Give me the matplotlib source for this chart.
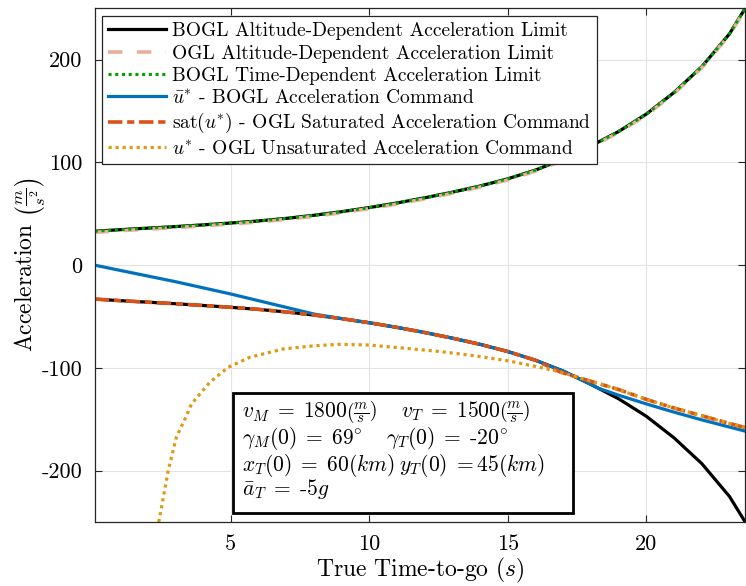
import matplotlib
matplotlib.use("Agg")
import matplotlib.pyplot as plt
from matplotlib.patches import Rectangle
import numpy as np

plt.rcParams['font.family'] = 'serif'
plt.rcParams['font.serif'] = ['cmr10']
plt.rcParams['mathtext.fontset'] = 'cm'
plt.rcParams['axes.unicode_minus'] = False
plt.rcParams['axes.formatter.use_mathtext'] = False

# time-to-go samples (s)
t_lim = [0.1, 1, 2, 3, 4, 5, 6, 7, 8, 9, 10, 11, 12, 13, 14, 15, 16, 17, 18, 19, 20, 21, 22, 23, 23.57]
# altitude dependent acceleration limit (m/s^2)
bogl_lim = [33, 34.5, 36, 37.5, 39.2, 41, 43, 45.5, 48.5, 52, 56, 60.5, 65.5, 71, 77, 84, 92.5, 103,
            116, 130, 147, 168, 193, 225, 250]
ogl_lim = [32, 33.5, 35, 36.5, 38.2, 40, 42, 44.5, 47.5, 51, 55, 59.5, 64.5, 70, 76, 83, 91.5, 102,
           115, 129, 146, 167, 192, 224, 249]
time_lim = [33, 34.5, 36, 37.5, 39.2, 41, 43, 45.5, 48.5, 52, 56, 60.5, 65.5, 71, 77, 84, 92.5, 103,
            116, 130, 147, 168, 193, 225, 250]

# BOGL command
t_bogl = [0.1, 1, 2, 3, 4, 5, 6, 7, 8, 9, 10, 11, 12, 13, 14, 15, 16, 17, 18, 18.3, 19, 20, 21, 22, 23, 23.57]
u_bogl = [0, -5, -10.5, -16, -22, -28, -34.5, -41, -47.5, -52, -56, -60.5, -65.5, -71, -77, -84, -92.5,
          -103, -116, -120, -126.5, -135, -143, -150.5, -157.5, -161.5]

# OGL unsaturated command
t_unsat = [2.41, 2.75, 3.05, 3.35, 3.59, 4.25, 4.91, 5.7, 6.9, 8, 8.9, 10, 11.35, 12.55, 13.76, 15,
           16.16, 16.9, 18, 19, 20, 21, 22, 23, 23.57]
u_unsat = [-250, -200, -167, -150, -135, -114, -99.4, -89.6, -81.5, -78.5, -77, -77.7, -81, -84, -88,
           -93, -99.4, -104, -113, -121, -130.6, -139, -146.5, -154, -158]

# OGL saturated command
t_sat = [0.1, 1, 2, 3, 4, 5, 6, 7, 8, 9, 10, 11, 12, 13, 14, 15, 16, 16.9, 18, 19, 20, 21, 22, 23, 23.57]
u_sat = [-33, -34.5, -36, -37.5, -39.2, -41, -43, -45.5, -48.5, -52, -56, -60.5, -65.5, -71, -77, -84,
         -92.5, -104, -113, -121, -130.6, -139, -146.5, -154, -158]

fig = plt.figure(figsize=(7.46, 5.86), dpi=100)
ax = fig.add_axes([0.127, 0.109, 0.872, 0.877])

ax.plot(t_lim, bogl_lim, color='black', lw=2.3, label='BOGL Altitude-Dependent Acceleration Limit')
ax.plot(t_lim, -np.array(bogl_lim), color='black', lw=2.3)
ax.plot(t_lim, ogl_lim, color='#E6B09A', lw=2.6, ls=(0, (4, 4)), label='OGL Altitude-Dependent Acceleration Limit')
ax.plot(t_lim, time_lim, color='#00A000', lw=2.2, ls=(0, (1, 1.2)), label='BOGL Time-Dependent Acceleration Limit')
ax.plot(t_bogl, u_bogl, color='#0072BD', lw=2.3, label=r'$\bar{u}^{*}$ - BOGL Acceleration Command')
ax.plot(t_sat, u_sat, color='#D95319', lw=2.6, ls=(0, (4, 1.3, 2, 1.3)),
        label=r'sat$(u^{*})$ - OGL Saturated Acceleration Command')
ax.plot(t_unsat, u_unsat, color='#DE9A10', lw=2.3, ls=(0, (1, 1.2)),
        label=r'$u^{*}$ - OGL Unsaturated Acceleration Command')

ax.set_xlim(0.1, 23.57)
ax.set_ylim(-250, 250)
ax.set_xticks([5, 10, 15, 20])
ax.set_yticks([-200, -100, 0, 100, 200])
ax.grid(True, color='#E3E3E3', lw=0.8)
ax.set_axisbelow(True)
ax.tick_params(direction='in', top=True, right=True, labelsize=16, length=5, color='#262626', pad=9)
for s in ax.spines.values():
    s.set_color('#262626')
    s.set_linewidth(0.9)

ax.set_xlabel('True Time-to-go $(s)$', fontsize=17, labelpad=1)
ax.set_ylabel(r'Acceleration $\left(\frac{m}{s^2}\right)$', fontsize=17, labelpad=-5)

leg = ax.legend(loc='upper left', bbox_to_anchor=(0.0108, 0.984), borderaxespad=0, fontsize=14,
                handlelength=3.0, labelspacing=0.22, handletextpad=0.3, borderpad=0.3, fancybox=False,
                framealpha=1, edgecolor='#262626')
leg.get_frame().set_linewidth(0.9)

# parameter box
ax.add_patch(Rectangle((0.212, 0.0175), 0.523, 0.2335, transform=ax.transAxes, fill=True,
                       facecolor='white', edgecolor='black', lw=2, zorder=5))
fs = 15.5
ax.text(0.2257, 0.204, r'$v_M\;=\;1800\left(\frac{m}{s}\right)$', transform=ax.transAxes, fontsize=fs, va='baseline', zorder=6)
ax.text(0.4708, 0.204, r'$v_T\;=\;1500\left(\frac{m}{s}\right)$', transform=ax.transAxes, fontsize=fs, va='baseline', zorder=6)
ax.text(0.2257, 0.152, r'$\gamma_M(0)\;=\;69^{\circ}$', transform=ax.transAxes, fontsize=fs, va='baseline', zorder=6)
ax.text(0.4477, 0.152, r'$\gamma_T(0)\;=\;$-$20^{\circ}$', transform=ax.transAxes, fontsize=fs, va='baseline', zorder=6)
ax.text(0.2257, 0.099, r'$x_T(0)\;=\;60(km)$', transform=ax.transAxes, fontsize=fs, va='baseline', zorder=6)
ax.text(0.4677, 0.099, r'$y_T(0)\;=$45$(km)$', transform=ax.transAxes, fontsize=fs, va='baseline', zorder=6)
ax.text(0.2257, 0.0525, r'$\bar{a}_T\;=\;$-$5g$', transform=ax.transAxes, fontsize=fs, va='baseline', zorder=6)

fig.savefig('out.png', dpi=100)
